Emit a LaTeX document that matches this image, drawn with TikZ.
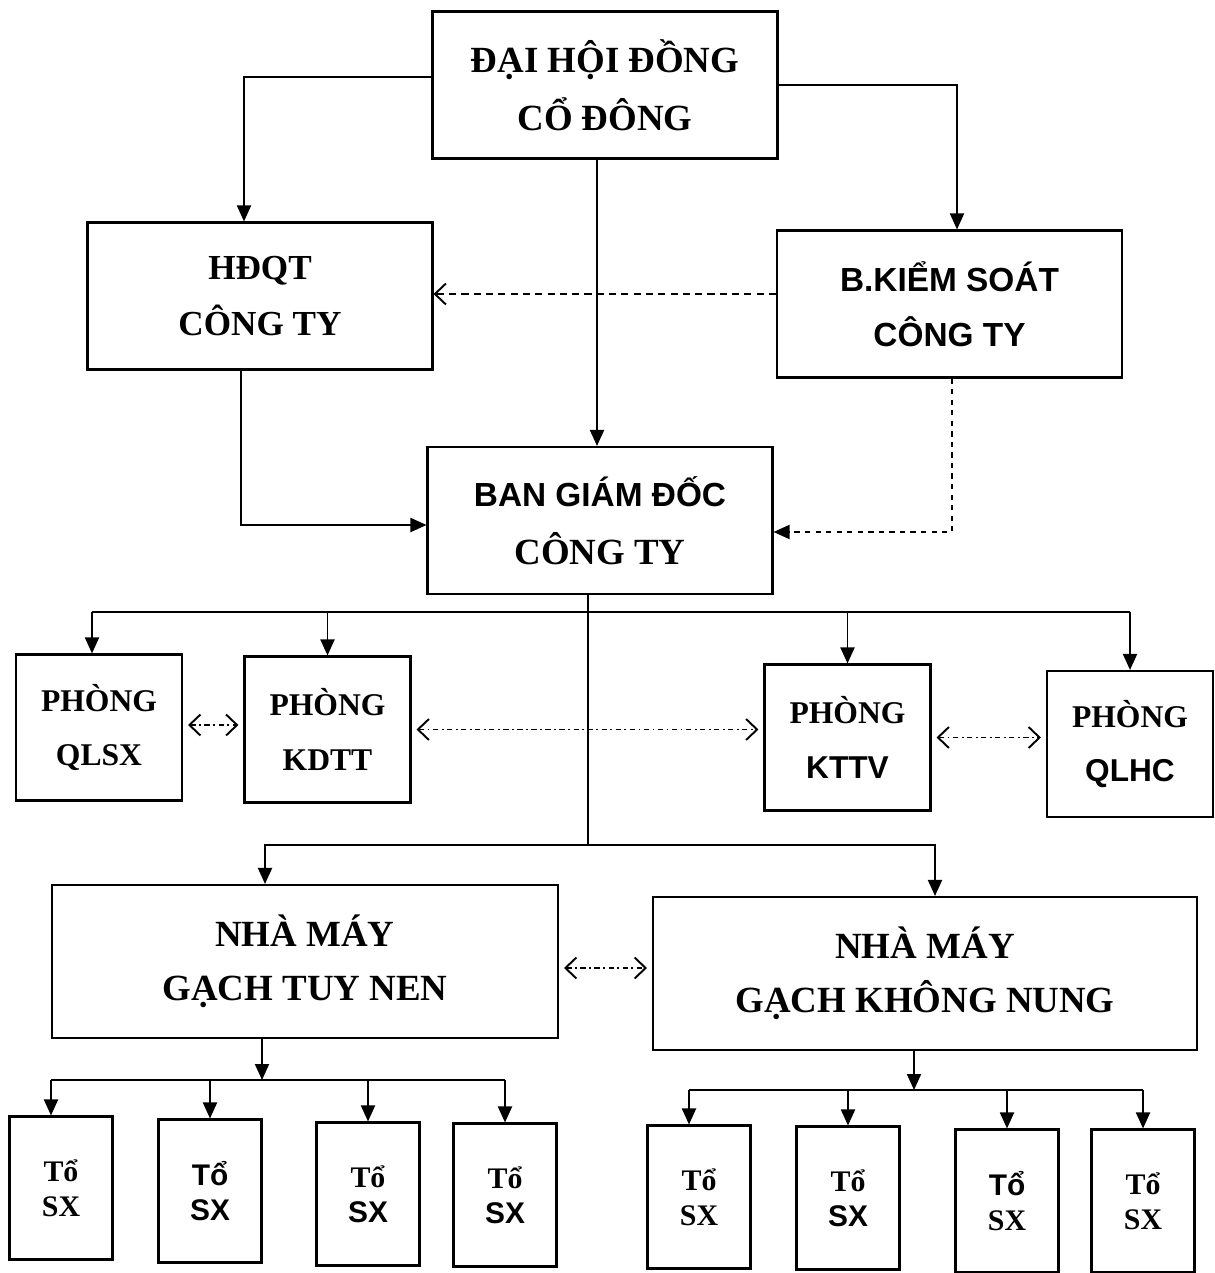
\documentclass[tikz,border=0pt]{standalone}
\usepackage{fontspec}
\setmainfont{Liberation Serif}
\setsansfont{Liberation Sans}
\usetikzlibrary{arrows.meta}

\begin{document}
\begin{tikzpicture}[
		x=0.02cm, y=-0.02cm,
		box/.style={draw, line width=1.2pt, align=center, inner sep=2pt},
		bigbox/.style={box, minimum width=6.9cm, minimum height=2.94cm, font=\fontsize{21}{33}\selectfont\bfseries},
		roombox/.style={box, minimum width=3.32cm, minimum height=2.92cm, font=\fontsize{18}{31}\selectfont\bfseries},
		plantbox/.style={box, minimum height=3.06cm, font=\fontsize{21}{31}\selectfont\bfseries},
		teambox/.style={box, minimum width=2.06cm, minimum height=2.86cm, font=\fontsize{17}{20}\selectfont\bfseries},
		link/.style={line width=1.1pt},
		arr/.style={link, -{Triangle[length=3.2mm,width=2.8mm]}},
		dasharr/.style={link, dash pattern=on 4pt off 3pt, -{Straight Barb[length=2.2mm,width=4.2mm]}},
		twoway/.style={link, dash pattern=on 3pt off 2pt on 1pt off 2pt, {Straight Barb[length=2.2mm,width=4.2mm]}-{Straight Barb[length=2.2mm,width=4.2mm]}, shorten <=0.1cm, shorten >=0.1cm}
	]
		\useasboundingbox (0,0) rectangle (1214,1273);

		\node[bigbox] (dhdcd) at (605,85) {ĐẠI HỘI ĐỒNG\\CỔ ĐÔNG};
		\node[bigbox, font=\fontsize{20}{32}\selectfont\bfseries] (hdqt) at (260,296) {HĐQT\\CÔNG TY};
		\node[bigbox, font=\fontsize{19}{31}\selectfont\bfseries\sffamily] (bks) at (949.5,304) {B.KIỂM SOÁT\\CÔNG TY};
		\node[bigbox] (bgd) at (600,520.5) {{\sffamily\fontsize{19}{31}\selectfont BAN GIÁM ĐỐC}\\CÔNG TY};

		\node[roombox] (qlsx) at (99,727.5) {PHÒNG\\QLSX};
		\node[roombox] (kdtt) at (327.5,729.5) {PHÒNG\\KDTT};
		\node[roombox] (kttv) at (847.5,737.5) {PHÒNG\\{\sffamily KTTV}};
		\node[roombox] (qlhc) at (1130,744) {PHÒNG\\{\sffamily QLHC}};

		\node[plantbox, minimum width=10.12cm] (tuynen) at (305,961.5) {NHÀ MÁY\\GẠCH TUY NEN};
		\node[plantbox, minimum width=10.88cm] (khongnung) at (925,973.5) {NHÀ MÁY\\GẠCH KHÔNG NUNG};

		\node[teambox] (ta1) at (61,1188) {Tổ\\SX};
		\node[teambox] (ta2) at (210,1191) {\sffamily Tổ\\\sffamily SX};
		\node[teambox] (ta3) at (368,1194) {Tổ\\\sffamily SX};
		\node[teambox] (ta4) at (505,1195) {Tổ\\\sffamily SX};
		\node[teambox] (tb1) at (699,1197) {Tổ\\SX};
		\node[teambox] (tb2) at (848,1198) {Tổ\\\sffamily SX};
		\node[teambox] (tb3) at (1007,1201) {\sffamily Tổ\\SX};
		\node[teambox] (tb4) at (1143,1201) {Tổ\\SX};

		\draw[arr] ([yshift=0.16cm]dhdcd.west) -| ([xshift=-0.32cm]hdqt.north);
		\draw[arr] (dhdcd.east) -| ([xshift=0.15cm]bks.north);
		\draw[arr] ([xshift=-0.16cm]dhdcd.south) -- ([xshift=-0.16cm]dhdcd.south |- bgd.north);
		\draw[dasharr] ([yshift=0.2cm]bks.west) -- ([yshift=0.2cm]bks.west -| hdqt.east);
		\draw[arr] ([xshift=-0.38cm]hdqt.south) |- ([yshift=-0.09cm]bgd.west);
		\draw[link, dashed, -{Triangle[length=3.2mm,width=2.8mm]}] ([xshift=0.05cm]bks.south) |- ([yshift=-0.23cm]bgd.east);

		\coordinate (hub1) at (588,612);
		\coordinate (hub2) at (588,845);
		\draw[link] ([xshift=-0.24cm]bgd.south) -- (hub2);
		\draw[link] ([xshift=-0.14cm]qlsx.north |- hub1) -- (qlhc.north |- hub1);
		\draw[arr] ([xshift=-0.14cm]qlsx.north |- hub1) -- ([xshift=-0.14cm]qlsx.north);
		\foreach \room in {kdtt,kttv,qlhc}
			\draw[arr] (\room.north |- hub1) -- (\room.north);

		\draw[twoway] ([yshift=0.05cm]qlsx.east) -- ([yshift=0.05cm]qlsx.east -| kdtt.west);
		\draw[twoway] (kdtt.east) -- (kdtt.east -| kttv.west);
		\draw[twoway] (kttv.east) -- (kttv.east -| qlhc.west);
		\draw[twoway] ([yshift=-0.13cm]tuynen.east) -- ([yshift=-0.13cm]tuynen.east -| khongnung.west);

		\draw[arr] (hub2) -| ([xshift=-0.8cm]tuynen.north);
		\draw[arr] (hub2) -| ([xshift=0.2cm]khongnung.north);

		\coordinate (hub3) at (262,1080);
		\draw[arr] ([xshift=-0.86cm]tuynen.south) -- (hub3);
		\draw[link] ([xshift=-0.2cm]ta1.north |- hub3) -- (ta4.north |- hub3);
		\draw[arr] ([xshift=-0.2cm]ta1.north |- hub3) -- ([xshift=-0.2cm]ta1.north);
		\foreach \team in {ta2,ta3,ta4}
			\draw[arr] (\team.north |- hub3) -- (\team.north);

		\coordinate (hub4) at (914,1090);
		\draw[arr] ([xshift=-0.22cm]khongnung.south) -- (hub4);
		\draw[link] ([xshift=-0.2cm]tb1.north |- hub4) -- (tb4.north |- hub4);
		\draw[arr] ([xshift=-0.2cm]tb1.north |- hub4) -- ([xshift=-0.2cm]tb1.north);
		\foreach \team in {tb2,tb3,tb4}
			\draw[arr] (\team.north |- hub4) -- (\team.north);
\end{tikzpicture}
\end{document}
